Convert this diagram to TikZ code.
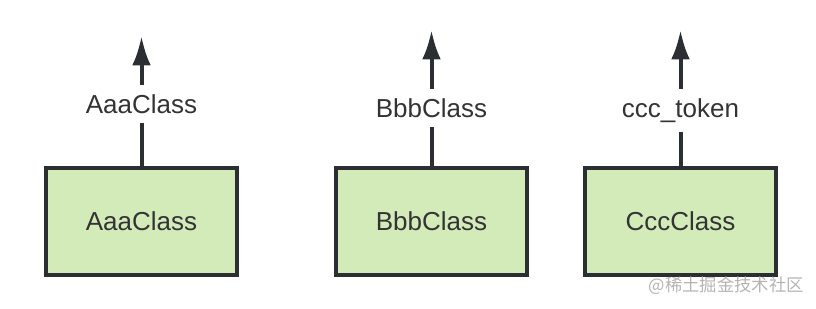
\documentclass[tikz,border=0pt]{standalone}
\usepackage{fontspec}
\setsansfont{Liberation Sans}
\newfontfamily\cjk{Noto Sans CJK SC}
\usetikzlibrary{arrows.meta,positioning}
\definecolor{ink}{HTML}{2B2F33}
\definecolor{txt}{HTML}{333333}
\definecolor{leaf}{HTML}{D3EBB9}
\definecolor{mark}{HTML}{B4B4B4}

\begin{document}
\begin{tikzpicture}[x=0.75pt,y=-0.75pt,font=\sffamily\fontsize{19.5pt}{23pt}\selectfont,
  cls/.style={draw=ink,line width=3pt,fill=leaf,text=txt,
    minimum width=143.25pt,minimum height=80.25pt,inner sep=0pt},
  lbl/.style={text=txt,anchor=base,inner xsep=2pt,inner ysep=7pt},
  line/.style={draw=ink,line width=3pt},
  arr/.style={line,-{Latex[length=22pt,width=14pt]}}]
  \useasboundingbox (0,0) rectangle (816,308);
  \node[cls] (aaa) at (141.5,221.5) {AaaClass};
  \node[cls,right=71.25pt of aaa] (bbb) {BbbClass};
  \node[cls,right=40.5pt of bbb] (ccc) {CccClass};
  \coordinate[above=97.5pt of aaa.north] (aaaTip);
  \coordinate[above=102pt of bbb.north] (bbbTip);
  \coordinate[above=102pt of ccc.north] (cccTip);
  \node[lbl] (aaaLbl) at (aaa.center |- 0,113) {AaaClass};
  \node[lbl] (bbbLbl) at (bbb.center |- 0,117) {BbbClass};
  \node[lbl] (cccLbl) at (ccc.center |- 0,117) {ccc\_token};
  \draw[line] (aaa) -- (aaaLbl); \draw[arr] (aaaLbl) -- (aaaTip);
  \draw[line] (bbb) -- (bbbLbl); \draw[arr] (bbbLbl) -- (bbbTip);
  \draw[line] (ccc) -- (cccLbl); \draw[arr] (cccLbl) -- (cccTip);
  % watermark
  \node[text=mark,font=\cjk\fontsize{13pt}{15pt}\selectfont,anchor=east,inner sep=0pt]
    (wmark) at (804,286) {@稀土掘金技术社区};
\end{tikzpicture}
\end{document}
